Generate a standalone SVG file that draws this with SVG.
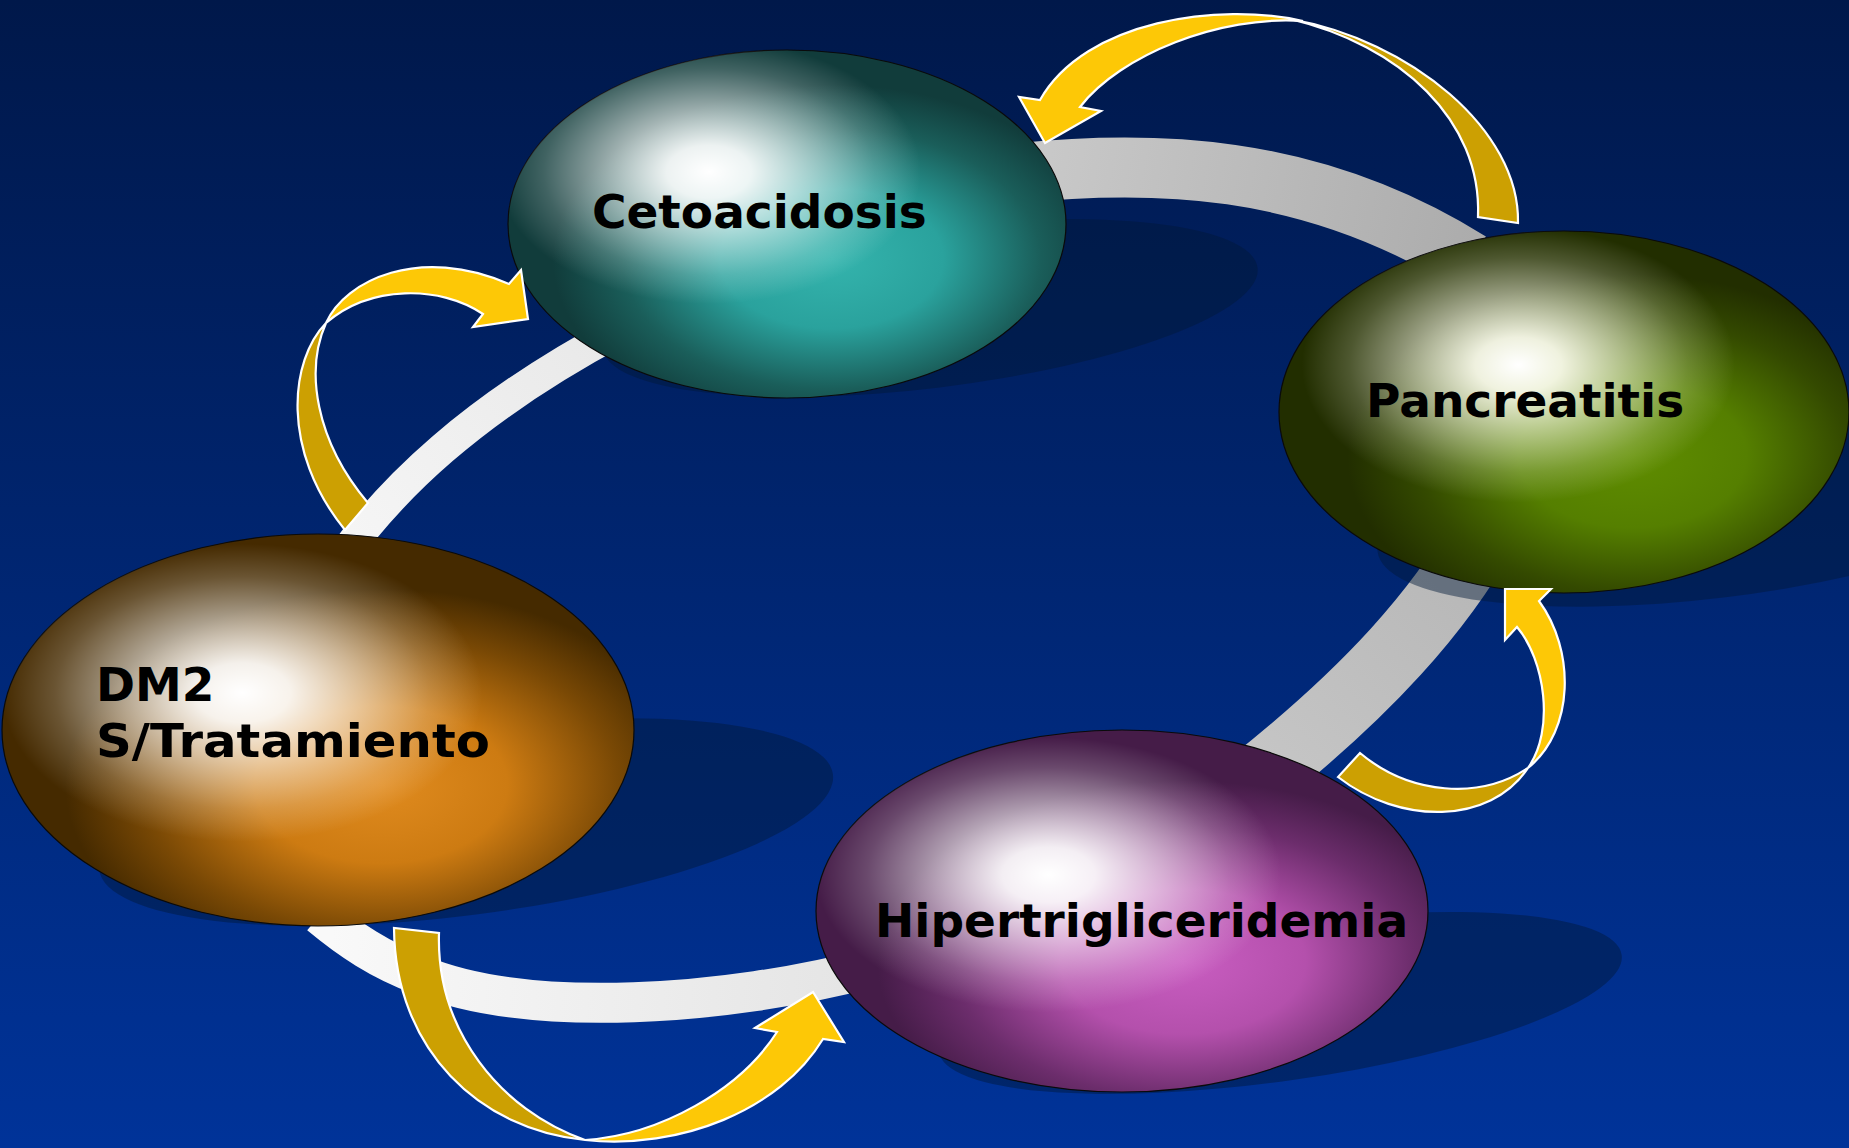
<svg xmlns="http://www.w3.org/2000/svg" width="1849" height="1148" viewBox="0 0 1849 1148">
<defs>
<style>
.lbl{font-family:"DejaVu Sans","Liberation Sans",sans-serif;font-weight:bold;font-size:47px;fill:#000}
.band{fill:none;stroke-linecap:butt}
.shadow{fill:#001838;opacity:0.45}
.node{stroke:#0a0a0a;stroke-width:1.2}
.front{fill:#fdc806;stroke:#fff;stroke-width:2.2;stroke-linejoin:miter}
.back{fill:#cca002;stroke:#fff;stroke-width:2.2;stroke-linejoin:miter}
</style>
<linearGradient id="bg" x1="0" y1="0" x2="0" y2="1">
<stop offset="0" stop-color="#00184a"/>
<stop offset="1" stop-color="#003399"/>
</linearGradient>
<linearGradient id="gA" gradientUnits="userSpaceOnUse" x1="1000" y1="170" x2="1470" y2="260">
<stop offset="0" stop-color="#cbcbcb"/><stop offset="1" stop-color="#acacac"/>
</linearGradient>
<linearGradient id="gB" gradientUnits="userSpaceOnUse" x1="1480" y1="540" x2="1260" y2="780">
<stop offset="0" stop-color="#b6b6b6"/><stop offset="1" stop-color="#c6c6c6"/>
</linearGradient>
<linearGradient id="gC" gradientUnits="userSpaceOnUse" x1="330" y1="950" x2="870" y2="980">
<stop offset="0" stop-color="#f9f9f9"/><stop offset="1" stop-color="#e4e4e4"/>
</linearGradient>
<linearGradient id="gD" gradientUnits="userSpaceOnUse" x1="340" y1="560" x2="620" y2="330">
<stop offset="0" stop-color="#f6f6f6"/><stop offset="1" stop-color="#e8e8e8"/>
</linearGradient>
<radialGradient id="bCeto" cx="0.58" cy="0.6" r="0.5">
<stop offset="0" stop-color="#34b4ad"/>
<stop offset="0.4" stop-color="#2aa29d"/>
<stop offset="0.75" stop-color="#1a5e5a"/>
<stop offset="1" stop-color="#113c3b"/>
</radialGradient>
<radialGradient id="bPanc" cx="0.62" cy="0.62" r="0.5">
<stop offset="0" stop-color="#5f8d00"/>
<stop offset="0.4" stop-color="#557f00"/>
<stop offset="0.75" stop-color="#344a00"/>
<stop offset="1" stop-color="#222e00"/>
</radialGradient>
<radialGradient id="bHip" cx="0.6" cy="0.64" r="0.5">
<stop offset="0" stop-color="#c95dc1"/>
<stop offset="0.4" stop-color="#b450ac"/>
<stop offset="0.75" stop-color="#6c2d6c"/>
<stop offset="1" stop-color="#451c48"/>
</radialGradient>
<radialGradient id="bDM2" cx="0.6" cy="0.64" r="0.5">
<stop offset="0" stop-color="#e08b1f"/>
<stop offset="0.4" stop-color="#cd7b12"/>
<stop offset="0.75" stop-color="#7a4905"/>
<stop offset="1" stop-color="#452a00"/>
</radialGradient>
<radialGradient id="hCeto" cx="0.36" cy="0.35" r="0.38">
<stop offset="0" stop-color="#fff" stop-opacity="1"/>
<stop offset="0.2" stop-color="#fff" stop-opacity="0.92"/>
<stop offset="0.5" stop-color="#fff" stop-opacity="0.55"/>
<stop offset="0.78" stop-color="#fff" stop-opacity="0.2"/>
<stop offset="1" stop-color="#fff" stop-opacity="0"/>
</radialGradient>
<radialGradient id="hPanc" cx="0.42" cy="0.37" r="0.38">
<stop offset="0" stop-color="#fff" stop-opacity="1"/>
<stop offset="0.2" stop-color="#fffff2" stop-opacity="0.92"/>
<stop offset="0.5" stop-color="#fffff0" stop-opacity="0.55"/>
<stop offset="0.78" stop-color="#fffff0" stop-opacity="0.2"/>
<stop offset="1" stop-color="#fffff0" stop-opacity="0"/>
</radialGradient>
<radialGradient id="hHip" cx="0.38" cy="0.40" r="0.38">
<stop offset="0" stop-color="#fff" stop-opacity="1"/>
<stop offset="0.2" stop-color="#fff" stop-opacity="0.92"/>
<stop offset="0.5" stop-color="#fff" stop-opacity="0.55"/>
<stop offset="0.78" stop-color="#fff" stop-opacity="0.2"/>
<stop offset="1" stop-color="#fff" stop-opacity="0"/>
</radialGradient>
<radialGradient id="hDM2" cx="0.38" cy="0.405" r="0.38">
<stop offset="0" stop-color="#fff" stop-opacity="1"/>
<stop offset="0.2" stop-color="#fff" stop-opacity="0.92"/>
<stop offset="0.5" stop-color="#fff" stop-opacity="0.55"/>
<stop offset="0.78" stop-color="#fff" stop-opacity="0.2"/>
<stop offset="1" stop-color="#fff" stop-opacity="0"/>
</radialGradient>
</defs>

<rect width="1849" height="1148" fill="url(#bg)"/>

<g id="connectors">
<path class="band" d="M 1000 175 C 1150 158, 1310 162, 1470 262" stroke="url(#gA)" stroke-width="60"/>
<path class="band" d="M 1485 530 C 1440 610, 1370 690, 1250 785" stroke="url(#gB)" stroke-width="68"/>
<path class="band" d="M 870 968 C 730 1005, 530 1020, 420 975 C 380 960, 350 940, 320 915" stroke="url(#gC)" stroke-width="40"/>
<path class="band" d="M 340 560 C 390 490, 470 410, 620 330" stroke="url(#gD)" stroke-width="32"/>
</g>

<g id="shadows">
<ellipse class="shadow" cx="930" cy="308" rx="330" ry="80" transform="rotate(-7 930 308)"/>
<ellipse class="shadow" cx="1715" cy="510" rx="340" ry="88" transform="rotate(-7 1715 510)"/>
<ellipse class="shadow" cx="1280" cy="1003" rx="345" ry="78" transform="rotate(-8 1280 1003)"/>
<ellipse class="shadow" cx="466" cy="822" rx="370" ry="93" transform="rotate(-7.4 466 822)"/>
</g>

<g id="node-cetoacidosis">
<ellipse class="node" cx="787" cy="224" rx="279" ry="174" fill="url(#bCeto)"/>
<ellipse cx="787" cy="224" rx="279" ry="174" fill="url(#hCeto)"/>
<text class="lbl" x="592" y="228">Cetoacidosis</text>
</g>

<g id="node-pancreatitis">
<ellipse class="node" cx="1564" cy="412" rx="285" ry="181" fill="url(#bPanc)"/>
<ellipse cx="1564" cy="412" rx="285" ry="181" fill="url(#hPanc)"/>
<text class="lbl" x="1366" y="417">Pancreatitis</text>
</g>

<g id="node-hipertrigliceridemia">
<ellipse class="node" cx="1122" cy="911" rx="306" ry="181" fill="url(#bHip)"/>
<ellipse cx="1122" cy="911" rx="306" ry="181" fill="url(#hHip)"/>
<text class="lbl" x="875" y="937">Hipertrigliceridemia</text>
</g>

<g id="node-dm2">
<ellipse class="node" cx="318" cy="730" rx="316" ry="196" fill="url(#bDM2)"/>
<ellipse cx="318" cy="730" rx="316" ry="196" fill="url(#hDM2)"/>
<text class="lbl" x="96" y="701">DM2</text>
<text class="lbl" x="96" y="757" textLength="394" lengthAdjust="spacingAndGlyphs">S/Tratamiento</text>
</g>

<g id="cycle-arrows">
<g id="arrow-top">
<path class="back" d="M 1290 19 C 1410 40, 1520 130, 1518 223 L 1478 217 C 1482 120, 1400 45, 1290 19 Z"/>
<path class="front" d="M 1303 21 C 1220 2, 1085 20, 1040 100 L 1019 97 L 1045 143 L 1101 111 L 1080 107 C 1120 55, 1220 15, 1303 21 Z"/>
</g>
<g id="arrow-left">
<path class="back" d="M 326 323 C 290 360, 280 450, 345 530 L 368 503 C 315 440, 305 370, 326 323 Z"/>
<path class="front" d="M 326 323 C 345 280, 420 245, 509 284 L 521 270 L 528 319 L 473 327 L 483 314 C 440 285, 370 285, 326 323 Z"/>
</g>
<g id="arrow-bottom">
<path class="back" d="M 585 1140 C 480 1130, 395 1050, 394 928 L 439 933 C 436 1030, 500 1110, 585 1140 Z"/>
<path class="front" d="M 585 1140 C 680 1150, 780 1110, 823 1039 L 844 1042 L 813 992 L 755 1028 L 777 1032 C 740 1090, 660 1135, 585 1140 Z"/>
</g>
<g id="arrow-right">
<path class="back" d="M 1528 768 C 1490 825, 1400 825, 1338 777 L 1360 753 C 1410 795, 1480 800, 1528 768 Z"/>
<path class="front" d="M 1528 768 C 1575 730, 1575 650, 1539 601 L 1551 589 L 1505 589 L 1505 640 L 1517 627 C 1545 660, 1555 730, 1528 768 Z"/>
</g>
</g>
</svg>
